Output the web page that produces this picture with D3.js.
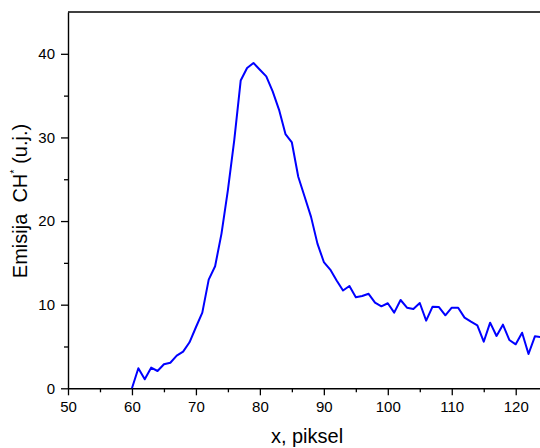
<!DOCTYPE html>
<html>
<head>
<meta charset="utf-8">
<script src="https://cdn.jsdelivr.net/npm/d3@7"></script>
<style>
  html, body { margin: 0; padding: 0; background: #fff; }
  svg { display: block; }
  text { font-family: "Liberation Sans", Arial, sans-serif; fill: #000; }
</style>
</head>
<body>
<svg id="chart" width="540" height="448"></svg>
<script>
// ---- data ----
const pixels = [60,61,62,63,64,65,66,67,68,69,70,71,72,73,74,75,76,77,78,79,80,81,82,83,84,85,86,87,88,89,90,91,92,93,94,95,96,97,98,99,100,101,102,103,104,105,106,107,108,109,110,111,112,113,114,115,116,117,118,119,120,121,122,123,124];
const emission = [0,2.39,1.08,2.47,2.07,2.87,3.06,3.9,4.38,5.5,7.3,9.05,13.0,14.6,18.5,23.7,29.7,36.8,38.3,38.9,38.1,37.3,35.5,33.3,30.4,29.4,25.3,22.9,20.5,17.3,15.1,14.2,12.9,11.7,12.24,10.9,11.04,11.3,10.24,9.8,10.17,9.05,10.56,9.64,9.49,10.2,8.09,9.76,9.72,8.73,9.64,9.64,8.45,7.97,7.53,5.57,7.85,6.26,7.61,5.78,5.26,6.65,4.1,6.22,6.1];
const xTicks = [50,60,70,80,90,100,110,120];
const yTicks = [0,10,20,30,40];
const xMinor = [55,65,75,85,95,105,115];
const yMinor = [5,15,25,35];

const svg = d3.select("#chart");
const x = d3.scaleLinear().domain([50,124]).range([68,541.3]);
const y = d3.scaleLinear().domain([0,45]).range([388.3,12]);

const axisColor = "#000";

// minor ticks
const xMinorAxis = d3.axisBottom(x).tickValues(xMinor).tickSize(4).tickFormat("");
const yMinorAxis = d3.axisLeft(y).tickValues(yMinor).tickSize(4).tickFormat("");
svg.append("g").attr("transform", `translate(0,${y(0)})`).call(xMinorAxis)
  .call(g => g.select(".domain").remove())
  .call(g => g.selectAll("line").attr("stroke", axisColor).attr("stroke-width", 1.3));
svg.append("g").attr("transform", `translate(${x(50)},0)`).call(yMinorAxis)
  .call(g => g.select(".domain").remove())
  .call(g => g.selectAll("line").attr("stroke", axisColor).attr("stroke-width", 1.3));

// major axes
const xAxis = d3.axisBottom(x).tickValues(xTicks).tickSize(7).tickSizeOuter(0).tickPadding(6);
const yAxis = d3.axisLeft(y).tickValues(yTicks).tickSize(7).tickSizeOuter(0).tickPadding(6);

svg.append("g").attr("transform", `translate(0,${y(0)})`).call(xAxis)
  .call(g => g.select(".domain").attr("stroke", axisColor).attr("stroke-width", 1.4))
  .call(g => g.selectAll("line").attr("stroke", axisColor).attr("stroke-width", 1.3))
  .call(g => g.selectAll("text").attr("font-size", 15).attr("font-family", "Liberation Sans, Arial, sans-serif").attr("fill", "#000"));

svg.append("g").attr("transform", `translate(${x(50)},0)`).call(yAxis)
  .call(g => g.select(".domain").attr("stroke", axisColor).attr("stroke-width", 1.4))
  .call(g => g.selectAll("line").attr("stroke", axisColor).attr("stroke-width", 1.3))
  .call(g => g.selectAll("text").attr("font-size", 15).attr("font-family", "Liberation Sans, Arial, sans-serif").attr("fill", "#000"));

// top frame line
svg.append("line")
  .attr("x1", x(50)).attr("x2", x(124)).attr("y1", y(45)).attr("y2", y(45))
  .attr("stroke", axisColor).attr("stroke-width", 1.4);

// data line
const pts = pixels.map((p, i) => [p, emission[i]]);
svg.append("path")
  .datum(pts)
  .attr("fill", "none")
  .attr("stroke", "#0000ff")
  .attr("stroke-width", 2)
  .attr("stroke-linejoin", "round")
  .attr("d", d3.line().x(d => x(d[0])).y(d => y(d[1])));

// axis titles
svg.append("text")
  .attr("x", 307).attr("y", 443)
  .attr("text-anchor", "middle")
  .attr("font-size", 20)
  .text("x, piksel");

const yt = svg.append("text")
  .attr("transform", "translate(27,201) rotate(-90)")
  .attr("text-anchor", "middle")
  .attr("font-size", 20)
  .attr("xml:space", "preserve");
yt.append("tspan").text("Emisija  CH");
yt.append("tspan").attr("font-size", 11).attr("dy", -9).text("*");
yt.append("tspan").attr("dy", 9).text(" (u.j.)");
</script>
</body>
</html>
